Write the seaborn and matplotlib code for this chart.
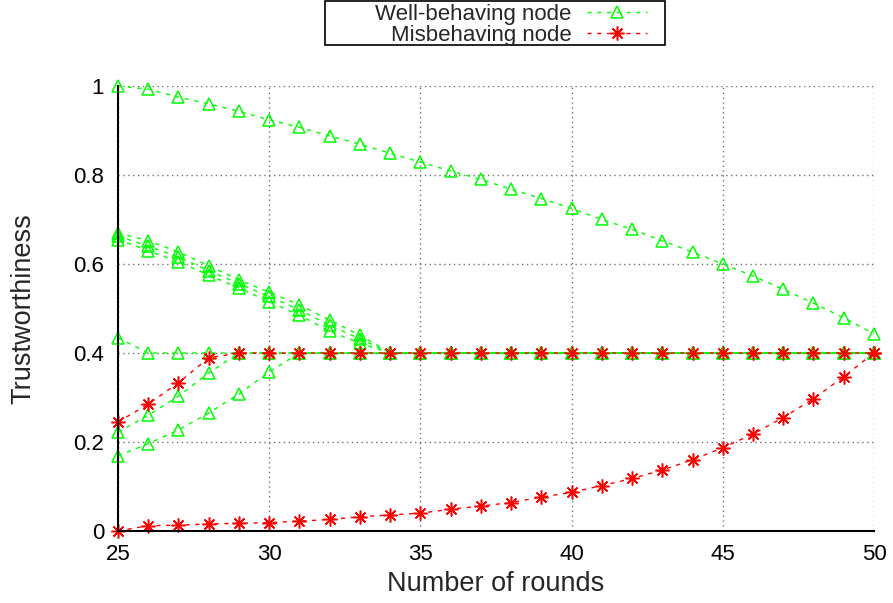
import matplotlib
matplotlib.use("Agg")
import matplotlib.pyplot as plt
import seaborn as sns
from matplotlib.patches import Rectangle
from matplotlib.ticker import FuncFormatter

# rounds on the x axis
rounds = list(range(25, 51))

# well-behaving nodes (green triangles)
well_top = [1.0, 0.993, 0.975, 0.96, 0.943, 0.924, 0.907, 0.888, 0.869, 0.849,
            0.829, 0.809, 0.79, 0.768, 0.747, 0.725, 0.7, 0.678, 0.652, 0.627,
            0.6, 0.573, 0.543, 0.512, 0.479, 0.443]
well_a = [0.670, 0.652, 0.627, 0.596, 0.564, 0.537, 0.508, 0.474, 0.440] + [0.4] * 17
well_b = [0.663, 0.640, 0.616, 0.585, 0.556, 0.527, 0.497, 0.462, 0.432] + [0.4] * 17
well_c = [0.655, 0.630, 0.605, 0.575, 0.546, 0.515, 0.485, 0.449, 0.422] + [0.4] * 17
well_d = [0.434] + [0.4] * 25
well_e = [0.222, 0.26, 0.303, 0.355] + [0.4] * 22
well_f = [0.169, 0.196, 0.227, 0.265, 0.308, 0.357] + [0.4] * 20

# misbehaving nodes (red stars)
mis_a = [0.245, 0.285, 0.333, 0.389] + [0.4] * 22
mis_b = [0.0, 0.012, 0.013, 0.016, 0.017, 0.019, 0.022, 0.026, 0.032, 0.036,
         0.04, 0.049, 0.056, 0.064, 0.076, 0.087, 0.102, 0.118, 0.137, 0.16,
         0.187, 0.218, 0.255, 0.297, 0.347, 0.4]

well_series = [well_top, well_a, well_b, well_c, well_d, well_e, well_f]
mis_series = [mis_a, mis_b]

x_ticks = [25, 30, 35, 40, 45, 50]
y_ticks = [0, 0.2, 0.4, 0.6, 0.8, 1.0]

sns.set_theme(style="white")
plt.rcParams["font.family"] = ["Liberation Sans", "DejaVu Sans"]

GREEN = "#00ff00"
RED = "#ff0000"
DASH = (0, (3, 4))

fig = plt.figure(figsize=(8.93, 6.03), dpi=100)
ax = fig.add_axes([0.1321, 0.1194, 0.8466, 0.738])

for i, vals in enumerate(well_series):
    sns.lineplot(x=rounds, y=vals, ax=ax, color=GREEN, lw=1, linestyle=DASH,
                 marker="^", markersize=8, markerfacecolor="none",
                 markeredgecolor=GREEN, markeredgewidth=1.1, clip_on=False,
                 label="Well-behaving node" if i == 0 else "_nolegend_")

for i, vals in enumerate(mis_series):
    sns.lineplot(x=rounds, y=vals, ax=ax, color=RED, lw=1, linestyle=DASH,
                 marker=(8, 2, 0), markersize=10, markeredgecolor=RED,
                 markeredgewidth=1.1, clip_on=False,
                 label="Misbehaving node" if i == 0 else "_nolegend_")

ax.set_xlim(25, 50)
ax.set_ylim(0, 1)
ax.set_xticks(x_ticks)
ax.set_yticks(y_ticks)
ax.yaxis.set_major_formatter(FuncFormatter(lambda v, p: f"{v:g}"))

ax.grid(True, color="#707070", linestyle=(0, (1, 2.5)), linewidth=1)
for side in ["top", "right"]:
    ax.spines[side].set_visible(False)
for side in ["left", "bottom"]:
    ax.spines[side].set_color("black")
    ax.spines[side].set_linewidth(1.5)
ax.tick_params(direction="in", length=6, width=1.2, colors="black",
               labelsize=16, pad=9)
ax.tick_params(axis="y", pad=10)

ax.set_xlabel("Number of rounds", fontsize=19.5)
ax.set_ylabel("Trustworthiness", fontsize=19.5)
ax.xaxis.set_label_coords(0.5, -0.09)
ax.yaxis.set_label_coords(-0.108, 0.5)

# legend on top, text first then the sample, inside a plain box
ax.get_legend().remove()
handles, labels = ax.get_legend_handles_labels()
leg = fig.legend(handles, labels, loc="upper right",
                 bbox_to_anchor=(647 / 893, 1 - 4 / 603),
                 markerfirst=False, frameon=False, fontsize=16,
                 handlelength=2.7, borderpad=0, borderaxespad=0,
                 labelspacing=0, handletextpad=0.7)
for col in leg._legend_handle_box.get_children():
    col.align = "right"
fig.patches.append(Rectangle((325 / 893, 1 - 45 / 603), 340 / 893, 44 / 603,
                             transform=fig.transFigure, fill=False,
                             edgecolor="black", linewidth=1.2))

fig.savefig("out.png", dpi=100)
